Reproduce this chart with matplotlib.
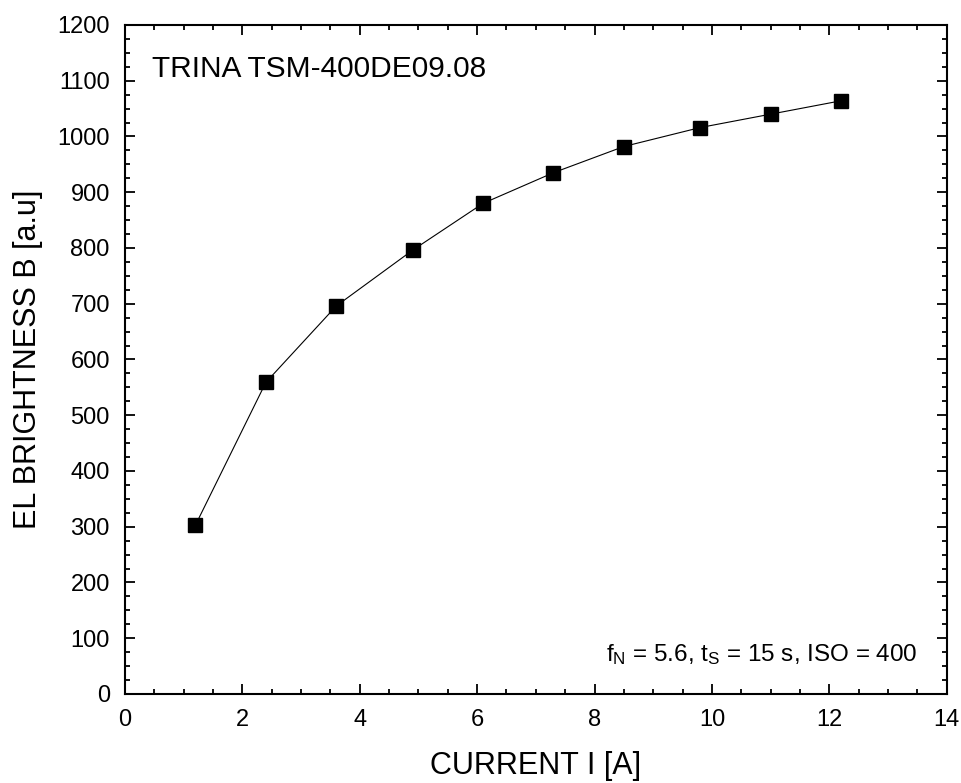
import matplotlib
matplotlib.use('Agg')
import matplotlib.pyplot as plt
from matplotlib.ticker import MultipleLocator

plt.rcParams['font.family'] = ['Liberation Sans', 'DejaVu Sans']
plt.rcParams['mathtext.fontset'] = 'custom'
plt.rcParams['mathtext.rm'] = 'Liberation Sans'
plt.rcParams['mathtext.it'] = 'Liberation Sans'

# data
current = [1.2, 2.4, 3.6, 4.9, 6.1, 7.3, 8.5, 9.8, 11.0, 12.2]
brightness = [303, 559, 696, 796, 880, 935, 982, 1016, 1040, 1064]

fig = plt.figure(figsize=(9.62, 7.83), dpi=100)
ax = fig.add_axes([0.130, 0.1137, 0.854, 0.8544])

ax.plot(current, brightness, '-', color='black', lw=0.8,
        marker='s', markersize=10, markerfacecolor='black', markeredgecolor='black')

ax.set_xlim(0, 14)
ax.set_ylim(0, 1200)
ax.xaxis.set_major_locator(MultipleLocator(2))
ax.xaxis.set_minor_locator(MultipleLocator(0.5))
ax.yaxis.set_major_locator(MultipleLocator(100))
ax.yaxis.set_minor_locator(MultipleLocator(25))

ax.tick_params(which='both', direction='in', top=True, right=True, width=1.3)
ax.tick_params(which='major', length=7, labelsize=17, pad=11)
ax.tick_params(which='minor', length=3.8)
ax.tick_params(axis='y', which='major', pad=11)
for sp in ax.spines.values():
    sp.set_linewidth(1.5)

ax.set_xlabel('CURRENT I [A]', fontsize=22, labelpad=14)
ax.set_ylabel('EL BRIGHTNESS B [a.u]', fontsize=22, labelpad=10)

ax.text(0.033, 0.955, 'TRINA TSM-400DE09.08', transform=ax.transAxes,
        fontsize=21.5, ha='left', va='top')
ax.text(0.965, 0.04,
        r'f$_\mathregular{N}$ = 5.6, t$_\mathregular{S}$ = 15 s, ISO = 400',
        transform=ax.transAxes, fontsize=17.5, ha='right', va='bottom')

fig.savefig('out.png', dpi=100)
